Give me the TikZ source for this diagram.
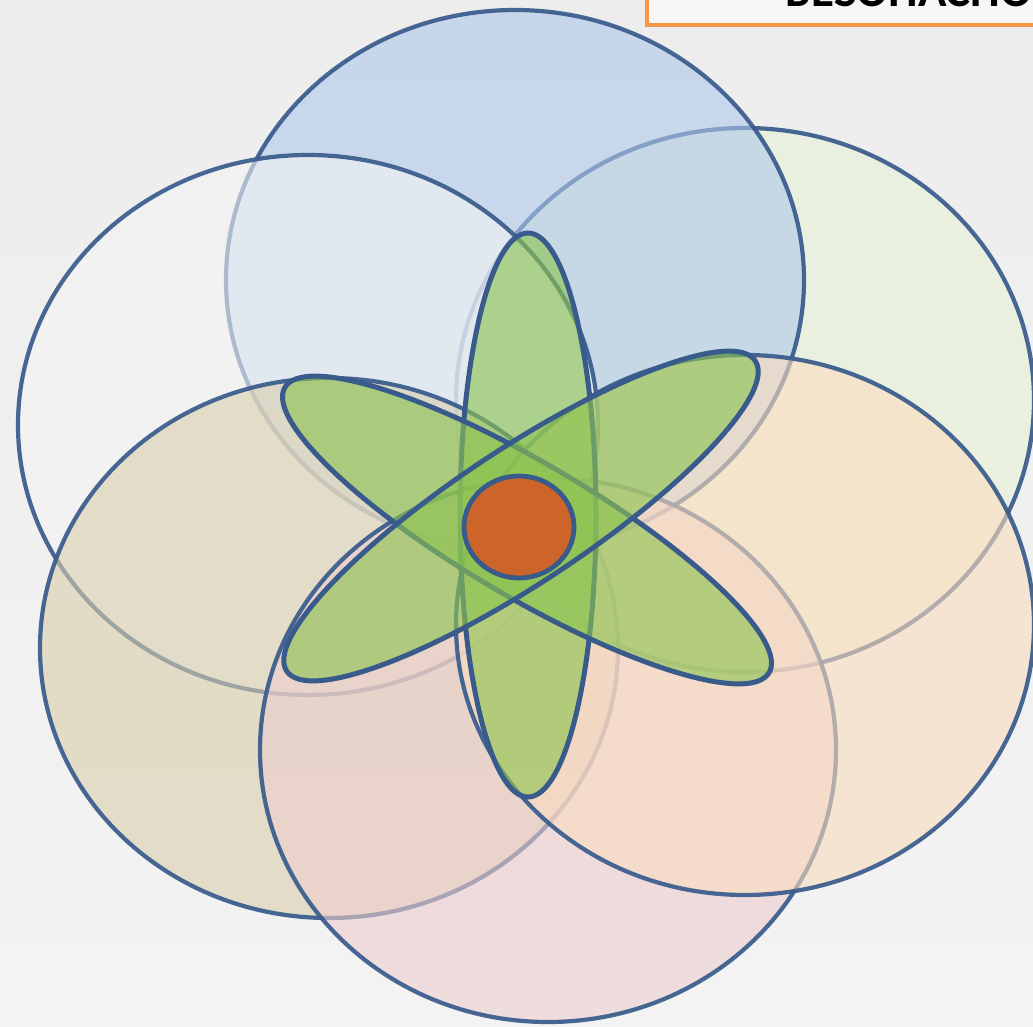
\documentclass[tikz,border=0pt]{standalone}
\usepackage{fontspec}
\newfontfamily\titlefont{Carlito}
\definecolor{bgtop}{HTML}{EDEDED}
\definecolor{bgbot}{HTML}{F3F3F3}
\definecolor{ringblue}{HTML}{385B8C}
\definecolor{ctop}{RGB}{175,200,233}
\definecolor{cul}{RGB}{244,244,244}
\definecolor{cur}{RGB}{232,242,215}
\definecolor{clr}{RGB}{250,220,190}
\definecolor{cbot}{RGB}{237,205,205}
\definecolor{cll}{RGB}{217,206,172}
\definecolor{petalgreen}{RGB}{140,196,80}
\definecolor{corecol}{HTML}{CD6429}
\definecolor{boxorange}{HTML}{F79646}
\begin{document}
\begin{tikzpicture}[x=1pt,y=-1pt,
  ring/.style={draw=ringblue, line width=4.2pt, fill opacity=0.6, draw opacity=0.92},
  petal/.style={draw=ringblue, line width=5pt, fill=petalgreen, fill opacity=0.62},
  core/.style={draw=ringblue, line width=4.8pt, fill=corecol},
  titlebox/.style={draw=boxorange, line width=3.8pt, fill=white, fill opacity=0.55},
  titletext/.style={font=\titlefont\bfseries\fontsize{47}{50}\selectfont, text=black, inner sep=0pt}]
\useasboundingbox (0,0) rectangle (1033,1027);
\clip (0,0) rectangle (1033,1027);
\shade[top color=bgtop, bottom color=bgbot] (0,0) rectangle (1033,1027);
% title box (cut off at the top edge)
\draw[titlebox] (647,-80) rectangle (1120,25);
\node[titletext, anchor=base west] (title) at (785,7) {БЕЗОПАСНОСТЬ};
% six big rings
\draw[ring, fill=cur] (745,400) ellipse [x radius=289, y radius=272];
\draw[ring, fill=ctop] (515,280) ellipse [x radius=289, y radius=270];
\draw[ring, fill=cul] (308,425) ellipse [x radius=290, y radius=270];
\draw[ring, fill=cll] (329,648) ellipse [x radius=289, y radius=270];
\draw[ring, fill=cbot] (548,750) ellipse [x radius=288, y radius=272];
\draw[ring, fill=clr] (745,625) ellipse [x radius=289, y radius=270];
% petals
\draw[petal] (528,515) ellipse [x radius=68, y radius=282];
\draw[petal, rotate around={-30.5:(527,530)}] (527,530) ellipse [x radius=281, y radius=67];
\draw[petal, rotate around={33.5:(521,516)}] (521,516) ellipse [x radius=281, y radius=67];
% core
\draw[core] (519,527) ellipse [x radius=55, y radius=51];
\end{tikzpicture}
\end{document}
